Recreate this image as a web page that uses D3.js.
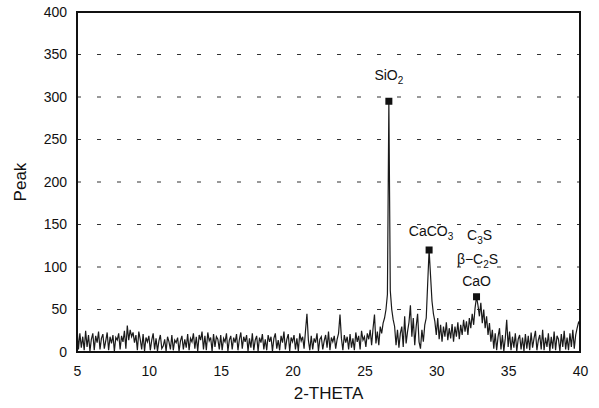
<!DOCTYPE html>
<html>
<head>
<meta charset="utf-8">
<script src="https://cdn.jsdelivr.net/npm/d3@7/dist/d3.min.js"></script>
<style>
    body { margin: 0; background: #fff; }
    text { font-family: "Liberation Sans", Arial, sans-serif; fill: #111; }
</style>
</head>
<body>
<div id="chart"></div>
<script>
// 2-theta from 5 to 40, step 0.1
var thetaStart = 5;
var thetaStep = 0.1;

var peakValues = [
    30, 3, 22, 5, 18, 2, 25, 6, 20, 1,
    15, 22, 2, 19, 11, 24, 3, 16, 21, 4,
    13, 23, 2, 18, 10, 20, 1, 17, 14, 22,
    3, 19, 12, 25, 4, 31, 14, 26, 18, 23,
    11, 20, 2, 24, 15, 3, 21, 1, 17, 12,
    19, 2, 14, 22, 3, 16, 1, 13, 20, 4,
    7, 15, 1, 18, 12, 3, 20, 2, 14, 11,
    17, 1, 13, 19, 3, 15, 5, 21, 2, 16,
    12, 22, 4, 18, 1, 20, 14, 24, 3, 19,
    2, 23, 13, 17, 1, 21, 6, 18, 15, 3,
    20, 2, 16, 12, 22, 1, 14, 19, 3, 17,
    11, 21, 2, 15, 23, 4, 18, 12, 20, 1,
    16, 5, 22, 2, 14, 19, 1, 17, 11, 21,
    3, 15, 2, 20, 12, 18, 1, 16, 22, 4,
    14, 2, 19, 11, 24, 3, 15, 21, 1, 17,
    12, 20, 3, 16, 1, 22, 13, 18, 4, 25,
    45, 14, 2, 19, 3, 16, 11, 22, 1, 15,
    18, 3, 13, 20, 5, 24, 2, 17, 12, 19,
    4, 15, 22, 44, 16, 2, 20, 11, 18, 3,
    21, 5, 16, 2, 23, 12, 19, 3, 25, 14,
    18, 6, 22, 15, 26, 8, 28, 44, 10, 24,
    8, 30, 22, 34, 40, 50, 68, 295, 72, 50,
    38, 30, 8, 26, 5, 22, 30, 6, 42, 10,
    24, 35, 55, 18, 40, 8, 30, 45, 12, 4,
    26, 12, 32, 40, 80, 120, 90, 60, 45, 36,
    20, 40, 15, 32, 12, 30, 18, 35, 14, 28,
    16, 33, 12, 30, 18, 35, 15, 32, 20, 38,
    24, 36, 20, 40, 28, 45, 32, 52, 65, 55,
    42, 58, 34, 50, 28, 42, 20, 34, 12, 26,
    4, 22, 2, 18, 28, 3, 20, 1, 16, 38,
    6, 24, 2, 18, 5, 22, 1, 15, 20, 3,
    17, 1, 21, 4, 19, 2, 23, 5, 16, 25,
    2, 14, 20, 3, 26, 2, 17, 6, 22, 1,
    18, 4, 24, 2, 19, 15, 1, 21, 6, 25,
    3, 17, 2, 22, 6, 26, 4, 20, 28, 35,
    33
];

var xTicks = [5, 10, 15, 20, 25, 30, 35, 40];
var yTicks = [0, 50, 100, 150, 200, 250, 300, 350, 400];

// marked peaks: position, height
var markedTheta = [26.7, 29.5, 32.8];
var markedPeak = [295, 120, 65];

var width = 599, height = 408;
// note: "top" is taken by window.top, so use plot* names
var plotLeft = 77, plotRight = 580, plotTop = 12, plotBottom = 352;

var svg = d3.select("#chart")
    .append("svg")
    .attr("width", width)
    .attr("height", height);

var xScale = d3.scaleLinear().domain([5, 40]).range([plotLeft, plotRight]);
var yScale = d3.scaleLinear().domain([0, 400]).range([plotBottom, plotTop]);

var data = peakValues.map(function (v, i) {
    return {x: thetaStart + i * thetaStep, y: v};
});

// dashed grid
svg.append("g")
    .selectAll("line")
    .data(yTicks.filter(function (d) { return d > 0 && d < 400; }))
    .enter().append("line")
    .attr("x1", plotLeft)
    .attr("x2", plotRight)
    .attr("y1", function (d) { return yScale(d); })
    .attr("y2", function (d) { return yScale(d); })
    .attr("stroke", "#333")
    .attr("stroke-width", 1)
    .attr("stroke-dasharray", "4,16");

// y axis labels
var yAxis = d3.axisLeft(yScale).tickValues(yTicks).tickSize(0).tickPadding(10);
var gy = svg.append("g")
    .attr("transform", "translate(" + plotLeft + ",0)")
    .call(yAxis);
gy.select(".domain").remove();
gy.selectAll("text")
    .style("font-size", "14px")
    .style("font-family", "Liberation Sans, Arial, sans-serif");

// x axis labels
var xAxis = d3.axisBottom(xScale).tickValues(xTicks).tickSize(0).tickPadding(14);
var gx = svg.append("g")
    .attr("transform", "translate(0," + plotBottom + ")")
    .call(xAxis);
gx.select(".domain").remove();
gx.selectAll("text")
    .style("font-size", "14px")
    .style("font-family", "Liberation Sans, Arial, sans-serif");

// pattern line
var line = d3.line()
    .x(function (d) { return xScale(d.x); })
    .y(function (d) { return yScale(d.y); });

svg.append("path")
    .datum(data)
    .attr("d", line)
    .attr("fill", "none")
    .attr("stroke", "#1a1a1a")
    .attr("stroke-width", 1.2);

// peak markers
svg.append("g")
    .selectAll("rect")
    .data(markedTheta)
    .enter().append("rect")
    .attr("x", function (d) { return xScale(d) - 3.5; })
    .attr("y", function (d, i) { return yScale(markedPeak[i]) - 3.5; })
    .attr("width", 7)
    .attr("height", 7)
    .attr("fill", "#111");

// frame
svg.append("rect")
    .attr("x", plotLeft)
    .attr("y", plotTop)
    .attr("width", plotRight - plotLeft)
    .attr("height", plotBottom - plotTop)
    .attr("fill", "none")
    .attr("stroke", "#111")
    .attr("stroke-width", 2);

// peak labels
function chem(x, y, parts) {
    var t = svg.append("text")
        .attr("x", x)
        .attr("y", y)
        .attr("text-anchor", "middle")
        .style("font-size", "14px");
    parts.forEach(function (p) {
        var s = t.append("tspan").text(p[0]);
        if (p[1]) {
            s.attr("dy", 4).style("font-size", "10px");
        } else if (p[2]) {
            s.attr("dy", -4);
        }
    });
}

chem(xScale(26.7), 80, [["SiO"], ["2", true]]);
chem(xScale(29.5) + 2, 236, [["CaCO"], ["3", true]]);
chem(xScale(32.8) + 3, 240, [["C"], ["3", true], ["S", false, true]]);
chem(xScale(32.8) + 1, 264, [["β−C"], ["2", true], ["S", false, true]]);
chem(xScale(32.8), 286, [["CaO"]]);

// axis titles
svg.append("text")
    .attr("x", (plotLeft + plotRight) / 2)
    .attr("y", 399)
    .attr("text-anchor", "middle")
    .style("font-size", "17px")
    .text("2-THETA");

svg.append("text")
    .attr("transform", "translate(26," + ((plotTop + plotBottom) / 2) + ") rotate(-90)")
    .attr("text-anchor", "middle")
    .style("font-size", "17px")
    .text("Peak");
</script>
</body>
</html>
